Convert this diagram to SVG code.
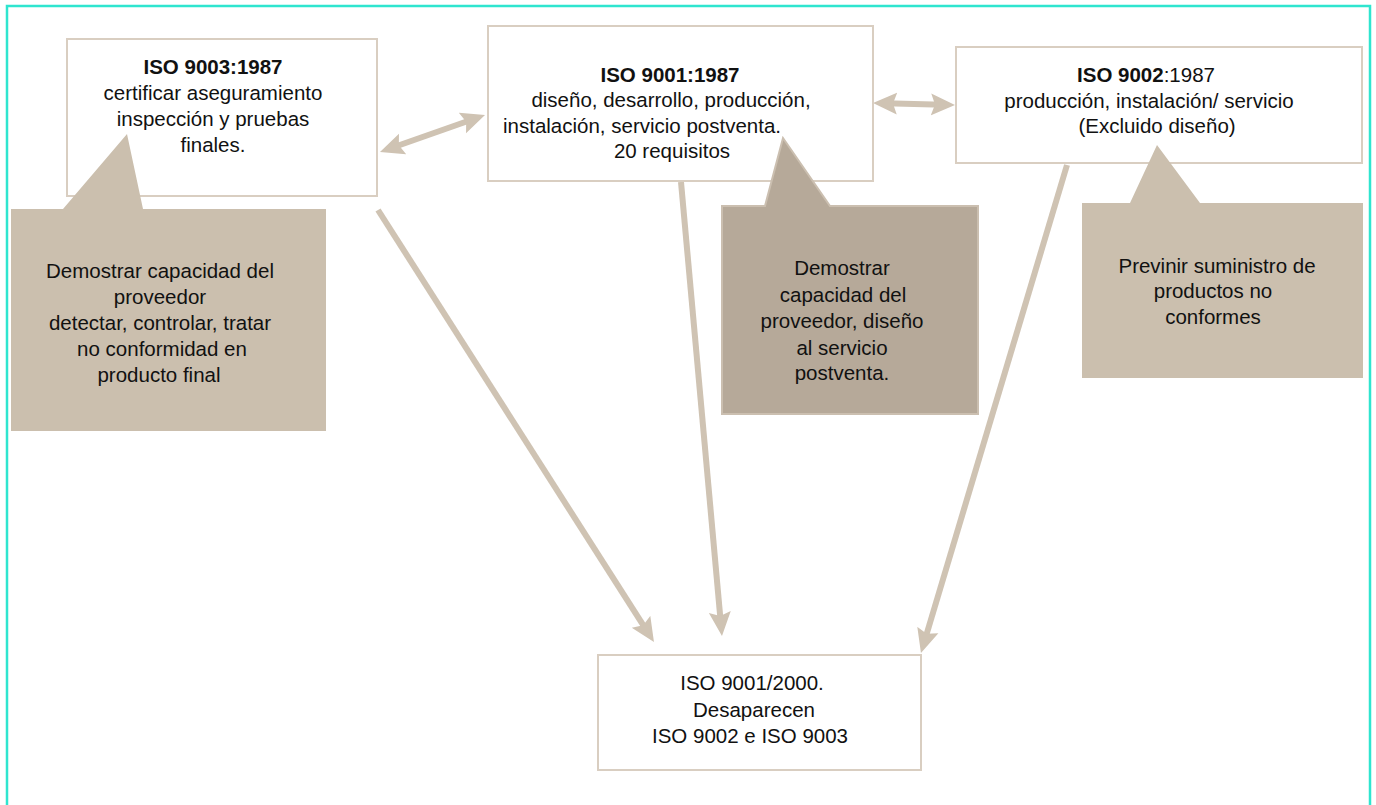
<svg xmlns="http://www.w3.org/2000/svg" width="1376" height="805" viewBox="0 0 1376 805">
<style>
.box{fill:#ffffff;stroke:#d9cec1;stroke-width:2}
.co{fill:#cbbfae}
.co2{fill:#b6a999;stroke:#cbbfb0;stroke-width:2}
.t{font-family:"Liberation Sans",Arial,sans-serif;font-size:20.5px;fill:#111;text-anchor:middle}
.b{font-weight:bold}
.ln{stroke:#cfc3b3;stroke-width:6;fill:none}
</style>
<defs>
<marker id="ah" markerUnits="userSpaceOnUse" markerWidth="24" markerHeight="24" refX="12" refY="11" orient="auto-start-reverse" viewBox="0 0 24 22">
<path d="M0,0 L24,11 L0,22 L4,11 z" fill="#cfc3b3"/>
</marker>
</defs>
<rect x="7" y="6" width="1363" height="820" fill="none" stroke="#2fe5cf" stroke-width="2.5"/>

<g id="connectors">
<line class="ln" x1="391.3" y1="148" x2="473.7" y2="119" marker-start="url(#ah)" marker-end="url(#ah)"/>
<line class="ln" x1="885" y1="103.3" x2="943" y2="104.7" marker-start="url(#ah)" marker-end="url(#ah)"/>
<line class="ln" x1="378" y1="210" x2="647.5" y2="631.9" marker-end="url(#ah)"/>
<line class="ln" x1="681" y1="182" x2="720.9" y2="624" marker-end="url(#ah)"/>
<line class="ln" x1="1067" y1="165" x2="924.4" y2="641.5" marker-end="url(#ah)"/>
</g>

<g id="iso9003">
<rect class="box" x="67" y="39" width="310" height="157"/>
<text class="t" x="213"><tspan class="b" x="213" y="74">ISO 9003:1987</tspan><tspan x="213" y="100">certificar aseguramiento</tspan><tspan x="213" y="126">inspección y pruebas</tspan><tspan x="213" y="152">finales.</tspan></text>
</g>

<g id="iso9001">
<rect class="box" x="488" y="26" width="385" height="155"/>
<text class="t"><tspan class="b" x="670" y="82">ISO 9001:1987</tspan><tspan x="671" y="107">diseño,  desarrollo, producción,</tspan><tspan x="642" y="133">instalación, servicio postventa.</tspan><tspan x="672" y="158">20 requisitos</tspan></text>
</g>

<g id="iso9002">
<rect class="box" x="956" y="47" width="406" height="116"/>
<text class="t"><tspan x="1146" y="82"><tspan class="b">ISO 9002</tspan>:1987</tspan><tspan x="1149" y="108">producción, instalación/ servicio</tspan><tspan x="1157" y="133">(Excluido diseño)</tspan></text>
</g>

<g id="callout9003">
<path class="co" d="M11,209 L63,209 L127,134 L143,209 L326,209 L326,431 L11,431 z"/>
<text class="t"><tspan x="160" y="278">Demostrar capacidad del</tspan><tspan x="160" y="304">proveedor</tspan><tspan x="160" y="330">detectar, controlar, tratar</tspan><tspan x="162" y="356">no conformidad en</tspan><tspan x="159" y="382">producto final</tspan></text>
</g>

<g id="callout9001">
<path class="co2" d="M722,206 L765,206 L783,138 L830,206 L978,206 L978,414 L722,414 z"/>
<text class="t"><tspan x="842" y="275">Demostrar</tspan><tspan x="843" y="302">capacidad del</tspan><tspan x="842" y="328">proveedor, diseño</tspan><tspan x="842" y="355">al servicio</tspan><tspan x="842" y="380">postventa.</tspan></text>
</g>

<g id="callout9002">
<path class="co" d="M1082,203 L1130,203 L1157,145 L1200,203 L1363,203 L1363,378 L1082,378 z"/>
<text class="t"><tspan x="1217" y="273">Previnir suministro de</tspan><tspan x="1213" y="298">productos no</tspan><tspan x="1213" y="324">conformes</tspan></text>
</g>

<g id="iso9001_2000">
<rect class="box" x="598" y="655" width="323" height="115"/>
<text class="t"><tspan x="752" y="690">ISO 9001/2000.</tspan><tspan x="754" y="717">Desaparecen</tspan><tspan x="750" y="743">ISO 9002 e ISO 9003</tspan></text>
</g>
</svg>
